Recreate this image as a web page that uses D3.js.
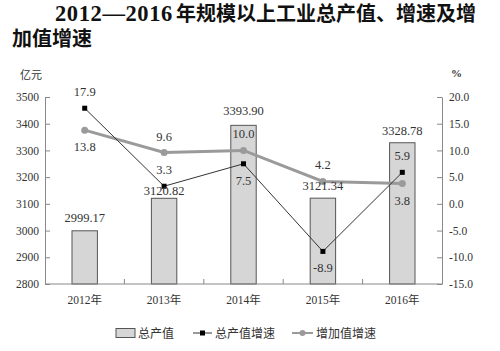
<!DOCTYPE html>
<html><head><meta charset="utf-8">
<script src="https://cdn.jsdelivr.net/npm/d3@7"></script>
<style>body{margin:0;background:#fff}svg{display:block}</style>
</head><body><svg id="c" width="500" height="351"></svg>
<script>
const years = ["2012年","2013年","2014年","2015年","2016年"];
const output = [2999.17, 3120.82, 3393.90, 3121.34, 3328.78];
const outputGrowth = [17.9, 3.3, 7.5, -8.9, 5.9];
const addedGrowth = [13.8, 9.6, 10.0, 4.2, 3.8];
const leftTicks = [2800,2900,3000,3100,3200,3300,3400,3500];
const rightTicks = [-15,-10,-5,0,5,10,15,20];

// label placement (presentation only)
const ogPlace = ["above","above","below","below","above"];
const agPlace = ["below","above","above","above","below"];
const barLabelDy = [-9,-3,-10,-8,-8];

const svg = d3.select("#c");
const L=45, R=442, T=97, B=284;
const numFont = "'Liberation Serif', 'Noto Sans CJK SC', serif";
const cjkFont = "'Noto Sans CJK SC', sans-serif";
const axisCol = "#888";
const txtCol = "#333";

const x = d3.scaleBand().domain(years).range([L,R]);
const yL = d3.scaleLinear().domain([2800,3500]).range([B,T]);
const yR = d3.scaleLinear().domain([-15,20]).range([B,T]);
const cx = d => x(d) + x.bandwidth()/2;

// title
const title = svg.append("g").attr("font-weight","bold").attr("fill","#111")
  .attr("font-family","'Liberation Serif','Noto Sans CJK SC',serif").attr("font-size",20);
const t1 = title.append("text").attr("y",21);
t1.append("tspan").attr("x",55).attr("font-size",22.5).attr("letter-spacing",0.6).text("2012—2016");
t1.append("tspan").attr("x",176).text("年规模以上工业总产值、增速及增");
title.append("text").attr("x",12).attr("y",46).text("加值增速");

// units
svg.append("text").attr("x",20).attr("y",79).attr("font-family",cjkFont).attr("font-size",11).attr("fill",txtCol).text("亿元");
svg.append("text").attr("x",451).attr("y",77).attr("font-family",numFont).attr("font-size",11).attr("font-weight","bold").attr("fill",txtCol).text("%");

// bars
const bw = x.bandwidth()*0.32;
svg.append("g").selectAll("rect").data(output).join("rect")
  .attr("x",(d,i)=>cx(years[i])-bw/2).attr("y",d=>yL(d))
  .attr("width",bw).attr("height",d=>yL(2800)-yL(d))
  .attr("fill","#d6d6d6").attr("stroke","#555").attr("stroke-width",1);

// axes
function styleAxis(g){
  g.select(".domain").attr("stroke",axisCol);
  g.selectAll(".tick line").attr("stroke",axisCol);
  g.selectAll(".tick text").attr("fill",txtCol).attr("font-family",numFont).attr("font-size",11.5);
}
svg.append("g").attr("transform",`translate(${L},0)`)
  .call(d3.axisLeft(yL).tickValues(leftTicks).tickSize(-5).tickSizeOuter(0).tickPadding(6).tickFormat(d3.format("d")))
  .call(styleAxis);
svg.append("g").attr("transform",`translate(${R},0)`)
  .call(d3.axisRight(yR).tickValues(rightTicks).tickSize(-5).tickSizeOuter(0).tickPadding(7).tickFormat(d=>d3.format(".1f")(d).replace("−","-")))
  .call(styleAxis);
// bottom axis
const bx = svg.append("g");
bx.append("line").attr("x1",L).attr("x2",R).attr("y1",B).attr("y2",B).attr("stroke",axisCol);
bx.selectAll("line.t").data(years.slice(1)).join("line").attr("class","t")
  .attr("x1",d=>x(d)).attr("x2",d=>x(d)).attr("y1",B).attr("y2",B-5).attr("stroke",axisCol);
bx.selectAll("text").data(years).join("text")
  .attr("x",d=>cx(d)).attr("y",304).attr("text-anchor","middle")
  .attr("font-family",numFont).attr("font-size",11.5).attr("fill",txtCol).text(d=>d);

// lines
const lineAG = d3.line().x((d,i)=>cx(years[i])).y(d=>yR(d));
svg.append("path").datum(addedGrowth).attr("d",lineAG).attr("fill","none").attr("stroke","#9a9a9a").attr("stroke-width",3);
svg.append("g").selectAll("circle").data(addedGrowth).join("circle")
  .attr("cx",(d,i)=>cx(years[i])).attr("cy",d=>yR(d)).attr("r",3.5).attr("fill","#9a9a9a");
svg.append("path").datum(outputGrowth).attr("d",lineAG).attr("fill","none").attr("stroke","#333").attr("stroke-width",1);
svg.append("g").selectAll("rect").data(outputGrowth).join("rect")
  .attr("x",(d,i)=>cx(years[i])-2.5).attr("y",d=>yR(d)-2.5).attr("width",5).attr("height",5).attr("fill","#000");

// labels
const lab = svg.append("g").attr("font-family",numFont).attr("font-size",12.5).attr("fill",txtCol).attr("text-anchor","middle");
lab.selectAll("text.b").data(output).join("text").attr("class","b")
  .attr("x",(d,i)=>cx(years[i])).attr("y",(d,i)=>yL(d)+barLabelDy[i]).text(d=>d3.format(".2f")(d));
lab.selectAll("text.og").data(outputGrowth).join("text").attr("class","og")
  .attr("x",(d,i)=>cx(years[i])).attr("y",(d,i)=>yR(d)+(ogPlace[i]==="above"?-12:21)).text(d=>d3.format(".1f")(d).replace("−","-"));
lab.selectAll("text.ag").data(addedGrowth).join("text").attr("class","ag")
  .attr("x",(d,i)=>cx(years[i])).attr("y",(d,i)=>yR(d)+(agPlace[i]==="above"?-12:21)).text(d=>d3.format(".1f")(d));

// legend
const lg = svg.append("g").attr("font-family",cjkFont).attr("font-size",12).attr("fill",txtCol);
lg.append("rect").attr("x",116).attr("y",328.5).attr("width",19).attr("height",9).attr("fill","#d6d6d6").attr("stroke","#555");
lg.append("text").attr("x",138).attr("y",337.5).text("总产值");
lg.append("line").attr("x1",193).attr("x2",212).attr("y1",333).attr("y2",333).attr("stroke","#333");
lg.append("rect").attr("x",200).attr("y",330.5).attr("width",5).attr("height",5).attr("fill","#000");
lg.append("text").attr("x",215).attr("y",337.5).text("总产值增速");
lg.append("line").attr("x1",292).attr("x2",313).attr("y1",333).attr("y2",333).attr("stroke","#9a9a9a").attr("stroke-width",2);
lg.append("circle").attr("cx",302.5).attr("cy",333).attr("r",3).attr("fill","#9a9a9a");
lg.append("text").attr("x",316).attr("y",337.5).text("增加值增速");
</script></body></html>
